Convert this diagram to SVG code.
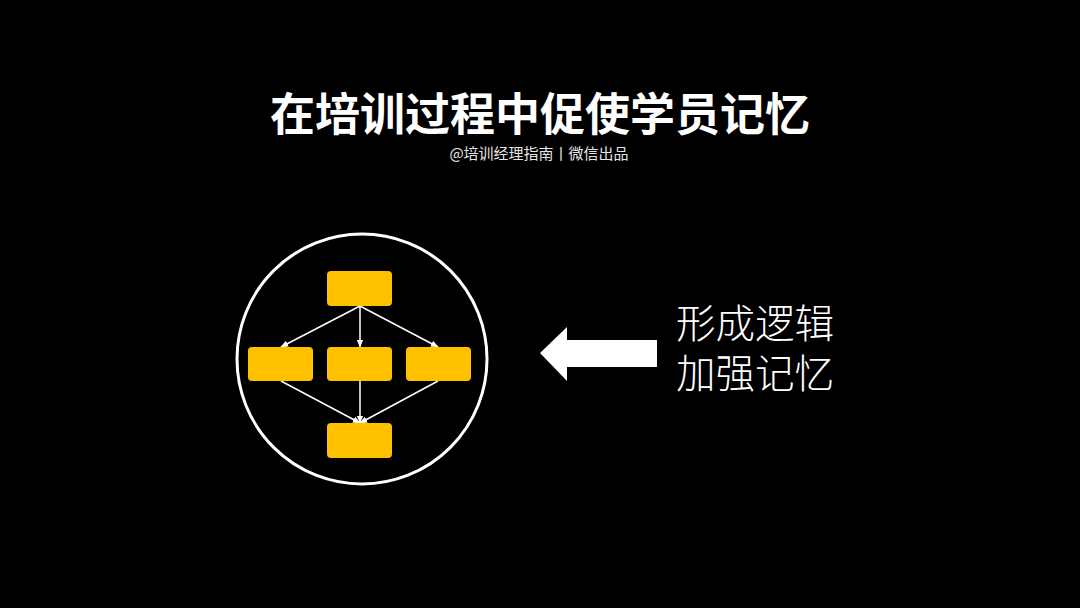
<svg xmlns="http://www.w3.org/2000/svg" width="1080" height="608" viewBox="0 0 1080 608">
<defs>
<style>
.box{fill:#FFC000;}
.con{stroke:#ffffff;stroke-width:1.5;fill:none;}
.cn{font-family:"Noto Sans CJK SC","Noto Sans",sans-serif;fill:#ffffff;}
</style>
<marker id="ah" viewBox="0 0 10 10" refX="9" refY="5" markerWidth="8" markerHeight="8" markerUnits="userSpaceOnUse" orient="auto">
<path d="M0,1 L10,5 L0,9 Z" fill="#ffffff"/>
</marker>
</defs>
<rect width="1080" height="608" fill="#000000"/>
<g id="title">
<text class="cn" x="540" y="131" font-size="45" font-weight="700" text-anchor="middle">在培训过程中促使学员记忆</text>
<text class="cn" x="539" y="159" font-size="15" text-anchor="middle" style="fill:#e6e6e6">@培训经理指南丨微信出品</text>
</g>
<g id="circle">
<circle cx="362" cy="359" r="125" fill="none" stroke="#ffffff" stroke-width="3"/>
</g>
<g id="connectors">
<line class="con" x1="360" y1="306" x2="281" y2="347" marker-end="url(#ah)"/>
<line class="con" x1="360" y1="306" x2="360" y2="347" marker-end="url(#ah)"/>
<line class="con" x1="360" y1="306" x2="438" y2="347" marker-end="url(#ah)"/>
<line class="con" x1="281" y1="381" x2="360" y2="423" marker-end="url(#ah)"/>
<line class="con" x1="360" y1="381" x2="360" y2="423" marker-end="url(#ah)"/>
<line class="con" x1="438" y1="381" x2="360" y2="423" marker-end="url(#ah)"/>
</g>
<g id="node-top"><rect class="box" x="327" y="271" width="65" height="35" rx="4"/></g>
<g id="node-left"><rect class="box" x="248" y="347" width="65" height="34" rx="4"/></g>
<g id="node-mid"><rect class="box" x="327" y="347" width="65" height="34" rx="4"/></g>
<g id="node-right"><rect class="box" x="406" y="347" width="65" height="34" rx="4"/></g>
<g id="node-bottom"><rect class="box" x="327" y="423" width="65" height="35" rx="4"/></g>
<g id="big-arrow">
<polygon points="540,353 567,327 567,340 657,340 657,367 567,367 567,381" fill="#ffffff"/>
</g>
<g id="label">
<text class="cn" x="676" y="338" font-size="39.5" font-weight="300">形成逻辑</text>
<text class="cn" x="676" y="388" font-size="39.5" font-weight="300">加强记忆</text>
</g>
</svg>
